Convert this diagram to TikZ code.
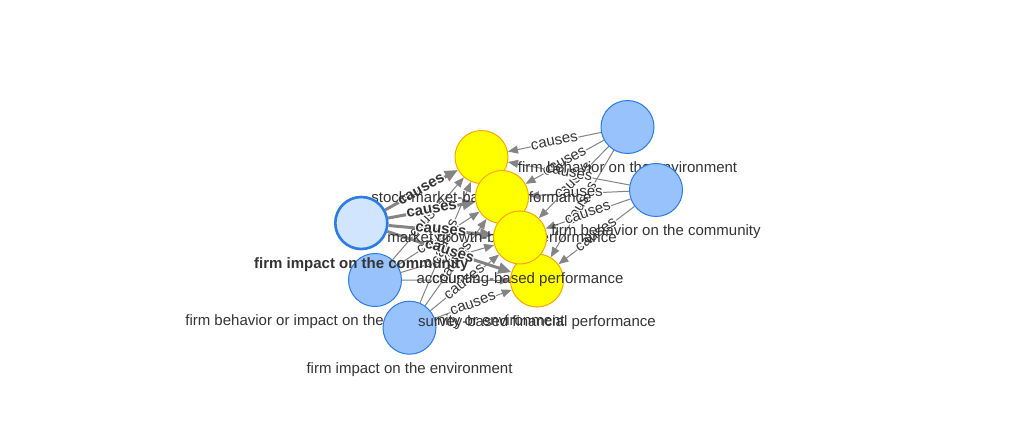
\documentclass[tikz,border=0pt]{standalone}
\usepackage{fontspec}
\setmainfont{Liberation Sans}
\usepackage{contour}
\contourlength{1.1pt}
\usetikzlibrary{arrows.meta}
\pgfdeclarelayer{bglayer}
\pgfdeclarelayer{edgelayer}
\pgfsetlayers{bglayer,edgelayer,main}
\definecolor{visblue}{HTML}{97C2FC}
\definecolor{visborder}{HTML}{2B7CE9}
\definecolor{vissel}{HTML}{D2E5FF}
\definecolor{visyellow}{HTML}{FFFF00}
\definecolor{visorange}{HTML}{FFA500}
\definecolor{visedge}{HTML}{848484}
\definecolor{vistext}{HTML}{343434}
\tikzset{
  vnode/.style={circle, minimum size=53pt, inner sep=0pt, line width=1pt},
  bluenode/.style={vnode, fill=visblue, draw=visborder},
  yelnode/.style={vnode, fill=visyellow, draw=visorange},
  selnode/.style={vnode, minimum size=52pt, fill=vissel, draw=visborder, line width=2.6pt},
  nlbl/.style={anchor=base, inner sep=0pt, text=vistext, font=\fontsize{15}{18}\selectfont},
  thinedge/.style={draw=visedge, line width=1pt, -{Triangle[length=10pt,width=8pt]}},
  thickedge/.style={draw=visedge, line width=3pt, -{Triangle[length=13pt,width=11pt]}},
  elbl/.style={sloped, midway, inner sep=0pt, text=vistext, font=\fontsize{15}{18}\selectfont},
}
\begin{document}
\begin{tikzpicture}[x=1pt,y=-1pt]
\begin{pgfonlayer}{bglayer}
\fill[white] (0,0) rectangle (1033,440);
\end{pgfonlayer}
\useasboundingbox (0,0) rectangle (1033,440);
% nodes in drawing order
\node[yelnode] (y1) at (481.5,157) {};
\node[nlbl] (y1l) at ([yshift=-45.5pt]y1.center) {stock-market-based performance};
\node[yelnode] (y2) at (502,197) {};
\node[nlbl] (y2l) at ([yshift=-45.5pt]y2.center) {market growth-based performance};
\node[bluenode] (b1) at (627.5,127) {};
\node[nlbl] (b1l) at ([yshift=-45.5pt]b1.center) {firm behavior on the environment};
\node[bluenode] (b2) at (656,190) {};
\node[nlbl] (b2l) at ([yshift=-45.5pt]b2.center) {firm behavior on the community};
\node[bluenode] (b3) at (375,280) {};
\node[nlbl] (b3l) at ([yshift=-45.5pt]b3.center) {firm behavior or impact on the community or environment};
\node[bluenode] (b4) at (409.5,327.7) {};
\node[nlbl] (b4l) at ([yshift=-45.5pt]b4.center) {firm impact on the environment};
\node[yelnode] (y4) at (537,280.5) {};
\node[nlbl] (y4l) at ([yshift=-45.5pt]y4.center) {survey-based financial performance};
\node[yelnode] (y3) at (520,237.5) {};
\node[nlbl] (y3l) at ([yshift=-45.5pt]y3.center) {accounting-based performance};
\node[selnode] (c) at (361.3,223) {};
\node[nlbl, font=\fontsize{15}{18}\selectfont\bfseries] (cl) at ([yshift=-45.5pt]c.center) {firm impact on the community};
% edges
\begin{pgfonlayer}{edgelayer}
\foreach \s in {b1,b2,b3,b4}{
  \foreach \t in {y1,y2,y3,y4}{
    \draw[thinedge] (\s) -- node[elbl]{\contour{white}{causes}} (\t);
  }
}
\foreach \t in {y1,y2,y3,y4}{
  \draw[thickedge] (c) -- node[elbl, font=\fontsize{15}{18}\selectfont\bfseries]{\contour{white}{causes}} (\t);
}
\end{pgfonlayer}
\end{tikzpicture}
\end{document}
